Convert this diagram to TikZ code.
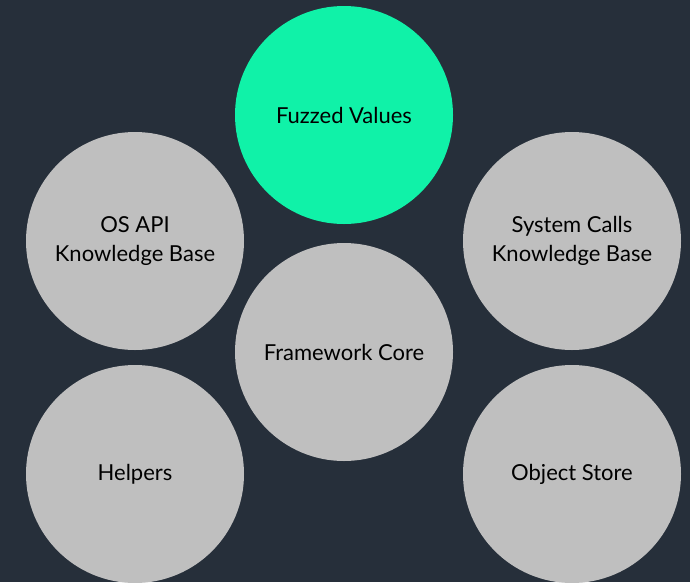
\documentclass[tikz,border=0pt]{standalone}
\usepackage{fontspec}
\setmainfont{Lato}
\definecolor{bg}{HTML}{262F3A}
\definecolor{graycirc}{HTML}{BFBFBF}
\definecolor{greencirc}{HTML}{10F2A8}
\begin{document}
\begin{tikzpicture}[x=1pt,y=-1pt,
  bubble/.style={circle,fill=graycirc,minimum size=218pt,inner sep=0pt,align=center,font=\fontsize{22}{29}\selectfont,text=black},
  hot/.style={bubble,fill=greencirc}]
\fill[bg] (0,0) rectangle (690,582);
\useasboundingbox (0,0) rectangle (690,582);
\node[hot] (fuzz) at (344,115) {Fuzzed Values};
\node[bubble] (osapi) at (135,241) {OS API\\Knowledge Base};
\node[bubble] (sys) at (572,241) {System Calls\\Knowledge Base};
\node[bubble] (core) at (344,352) {Framework Core};
\node[bubble] (help) at (135,474) {Helpers};
\node[bubble] (obj) at (572,474) {Object Store};
\end{tikzpicture}
\end{document}
